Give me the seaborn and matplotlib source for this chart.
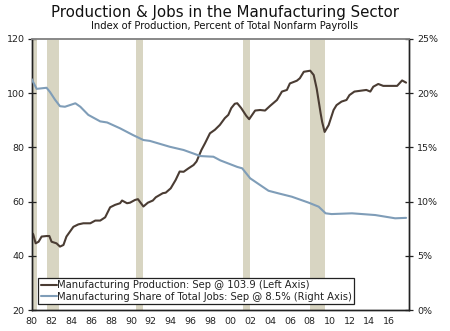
import matplotlib
matplotlib.use("Agg")
import matplotlib.pyplot as plt
import seaborn as sns
import pandas as pd
from matplotlib.ticker import FuncFormatter

# Manufacturing production index (left axis), decimal years
prod_year = [1980.0, 1980.15, 1980.4, 1980.7, 1981.0, 1981.5, 1981.78, 1982.0, 1982.5, 1982.85,
             1983.2, 1983.5, 1983.85, 1984.2, 1984.7, 1985.2, 1985.9, 1986.4, 1986.9, 1987.4,
             1987.9, 1988.4, 1988.9, 1989.1, 1989.6, 1989.9, 1990.4, 1990.7, 1991.25, 1991.7,
             1992.2, 1992.5, 1993.2, 1993.5, 1994.0, 1994.5, 1994.9, 1995.3, 1995.8, 1996.3,
             1996.6, 1997.1, 1997.45, 1997.95, 1998.45, 1998.95, 1999.45, 1999.8, 2000.1, 2000.45,
             2000.7, 2001.1, 2001.6, 2001.9, 2002.5, 2003.0, 2003.5, 2004.0, 2004.7, 2005.2,
             2005.7, 2006.0, 2006.7, 2007.0, 2007.4, 2008.05, 2008.4, 2008.7, 2009.1, 2009.25,
             2009.5, 2009.9, 2010.4, 2010.7, 2011.2, 2011.7, 2012.0, 2012.5, 2013.1, 2013.7,
             2014.1, 2014.4, 2014.9, 2015.4, 2016.1, 2016.8, 2017.3, 2017.7]
prod_value = [48.5, 48.0, 44.6, 45.2, 47.1, 47.3, 47.3, 45.2, 44.6, 43.4,
              44.0, 47.1, 48.9, 50.7, 51.6, 52.0, 52.0, 53.0, 53.0, 54.2,
              57.9, 58.8, 59.4, 60.4, 59.4, 59.6, 60.6, 60.9, 58.2, 59.6,
              60.4, 61.6, 63.1, 63.3, 64.9, 68.0, 71.1, 71.0, 72.3, 73.5,
              74.8, 79.1, 81.5, 85.2, 86.5, 88.3, 90.8, 92.0, 94.5, 96.1,
              96.3, 94.5, 91.7, 90.4, 93.6, 93.8, 93.6, 95.3, 97.5, 100.6,
              101.2, 103.6, 104.6, 105.5, 107.9, 108.3, 106.7, 101.7, 92.5, 89.4,
              85.7, 88.2, 93.8, 95.6, 96.9, 97.5, 99.3, 100.6, 100.9, 101.2,
              100.6, 102.4, 103.4, 102.7, 102.7, 102.7, 104.7, 103.9]

# Manufacturing share of total nonfarm payrolls, percent (right axis)
share_year = [1980.0, 1980.5, 1981.0, 1981.5, 1981.85, 1982.35, 1982.85, 1983.35, 1984.4, 1984.9,
              1985.7, 1986.9, 1987.6, 1988.9, 1990.2, 1991.25, 1991.9, 1993.9, 1995.3, 1997.0,
              1998.3, 1999.0, 2000.7, 2001.2, 2002.0, 2003.85, 2004.85, 2006.2, 2007.9, 2008.9,
              2009.6, 2010.2, 2012.25, 2014.6, 2016.6, 2017.7]
share_value = [21.3, 20.4, 20.45, 20.5, 20.1, 19.4, 18.8, 18.75, 19.07, 18.75,
               18.0, 17.4, 17.3, 16.76, 16.14, 15.68, 15.6, 15.06, 14.76, 14.2,
               14.14, 13.8, 13.2, 13.07, 12.15, 11.0, 10.76, 10.45, 9.9, 9.53,
               8.92, 8.85, 8.92, 8.76, 8.46, 8.5]

# Recession periods (start, end)
rec_start = [1980.0, 1981.5, 1990.55, 2001.23, 2008.05]
rec_end = [1980.5, 1982.8, 1991.2, 2001.98, 2009.57]

year_ticks = list(range(1980, 2017, 2))
year_labels = [f"{y % 100:02d}" for y in year_ticks]

prod_label = "Manufacturing Production: Sep @ 103.9 (Left Axis)"
share_label = "Manufacturing Share of Total Jobs: Sep @ 8.5% (Right Axis)"

sns.set_style("white")
plt.rcParams["font.family"] = ["DejaVu Sans"]

prod_color = "#4a3c33"
share_color = "#7f9db8"
rec_color = "#d8d5c2"
text_color = "#222222"

prod_df = pd.DataFrame({"year": prod_year, "value": prod_value})
share_df = pd.DataFrame({"year": share_year, "value": share_value})

fig = plt.figure(figsize=(4.5, 3.31), dpi=100)
ax = fig.add_axes([0.0704, 0.0634, 0.8386, 0.8188])
ax2 = ax.twinx()

for s, e in zip(rec_start, rec_end):
    ax.axvspan(s, e, color=rec_color, lw=0, zorder=0)

sns.lineplot(data=prod_df, x="year", y="value", ax=ax, color=prod_color, lw=1.5,
             label=prod_label, legend=False, zorder=3)
sns.lineplot(data=share_df, x="year", y="value", ax=ax2, color=share_color, lw=1.5,
             label=share_label, legend=False, zorder=3)

ax.set_xlim(1980, 2018)
ax.set_ylim(20, 120)
ax2.set_ylim(0, 25)
ax.set_yticks(range(20, 121, 20))
ax2.set_yticks(range(0, 26, 5))
ax2.yaxis.set_major_formatter(FuncFormatter(lambda v, p: f"{v:.0f}%"))
ax.set_xticks(year_ticks)
ax.set_xticklabels(year_labels)
ax.set_xlabel("")
ax.set_ylabel("")
ax2.set_ylabel("")

for a in (ax, ax2):
    for side in ("left", "right", "bottom"):
        a.spines[side].set_color("#222222")
        a.spines[side].set_linewidth(1.0)
    a.spines["top"].set_color("#888888")
    a.spines["top"].set_linewidth(1.2)

ax.tick_params(axis="x", direction="inout", length=6, width=0.9, colors="#222222",
               labelsize=6.8, labelcolor=text_color, pad=2)
ax.tick_params(axis="y", direction="inout", length=6, width=0.9, colors="#222222",
               labelsize=6.8, labelcolor=text_color, pad=2)
ax2.tick_params(axis="y", direction="inout", length=6, width=0.9, colors="#222222",
                labelsize=6.8, labelcolor=text_color, pad=3)

handles = ax.get_lines()[:1] + ax2.get_lines()[:1]
leg = ax2.legend(handles, [prod_label, share_label], loc="lower left",
                 bbox_to_anchor=(0.017, 0.022), borderaxespad=0, fontsize=7.2,
                 frameon=True, fancybox=False, framealpha=1, edgecolor="#222222",
                 handlelength=1.6, handletextpad=0.05, borderpad=0.25, labelspacing=0.15)
leg.get_frame().set_linewidth(0.9)
for t in leg.get_texts():
    t.set_color(text_color)

fig.text(0.5, 0.963, "Production & Jobs in the Manufacturing Sector", ha="center",
         va="center", fontsize=10.8, color="#111111")
fig.text(0.5, 0.922, "Index of Production, Percent of Total Nonfarm Payrolls", ha="center",
         va="center", fontsize=7.2, color="#111111")

fig.savefig("out.png", dpi=100)
